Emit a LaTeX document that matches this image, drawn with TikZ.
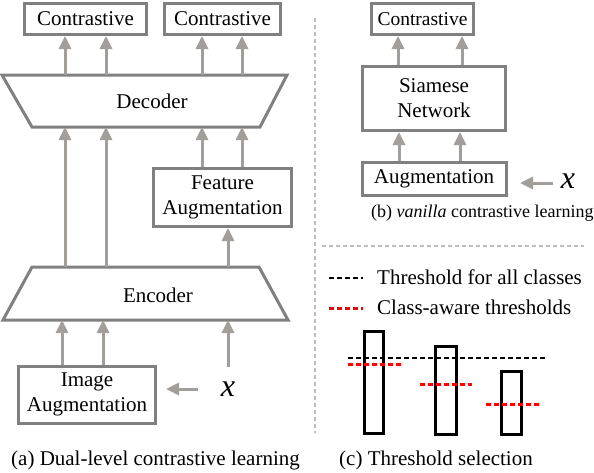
\documentclass[tikz,border=0pt]{standalone}
\usepackage{fontspec}
\setmainfont{Liberation Serif}
\usetikzlibrary{arrows.meta}
\definecolor{boxgray}{HTML}{808080}
\definecolor{arrgray}{HTML}{A29E9A}
\definecolor{sepgray}{HTML}{BDBDBD}
\tikzset{
  box/.style={draw=boxgray, line width=3pt, fill=white, align=center, inner sep=0pt, font=\fontsize{21}{25}\selectfont},
  trap/.style={draw=boxgray, line width=3pt, fill=white, line join=miter},
  arr/.style={draw=arrgray, line width=3pt, -{Triangle[width=12pt,length=13pt]}},
  lbl/.style={font=\fontsize{21}{25}\selectfont, inner sep=0pt},
  xlbl/.style={font=\fontsize{32}{32}\selectfont\itshape, inner sep=0pt},
  sep/.style={draw=sepgray, line width=2.5pt, dash pattern=on 4pt off 3pt},
  bar/.style={draw=black, line width=3pt, inner sep=0pt},
  thrblack/.style={draw=black, line width=2.3pt, dash pattern=on 5pt off 3pt},
  thrred/.style={draw=red, line width=3pt, dash pattern=on 5pt off 3pt},
}
\begin{document}
\begin{tikzpicture}[x=1pt,y=-1pt]
\useasboundingbox[fill=white] (0,0) rectangle (594,472);

% ---------- (a) ----------
\node[box, minimum width=122pt, minimum height=31pt] (c1) at (85.5,19) {Contrastive};
\node[box, minimum width=116pt, minimum height=31pt] (c2) at (222.5,19) {Contrastive};

\draw[trap] (2,75) -- (287,75) -- (260,127) -- (32,127) -- cycle;
\node[lbl] (dec) at (152,101) {Decoder};
\coordinate (dectop) at (0,75);
\coordinate (decbot) at (0,127);

\node[box, minimum width=138pt, minimum height=58pt] (fa) at (222.5,197.5) {Feature\\Augmentation};

\draw[trap] (32,267) -- (259,267) -- (288,320) -- (3,320) -- cycle;
\node[lbl] (enc) at (158,295) {Encoder};
\coordinate (enctop) at (0,267);
\coordinate (encbot) at (0,320);

\node[box, minimum width=137pt, minimum height=57pt] (ia) at (87,394.5) {Image\\Augmentation};
\node[xlbl] (xa) at (228,389) {x};
\coordinate (xaup) at (228,367);
\coordinate (xaleft) at (198,389);
\coordinate (iatip) at (166,389);

% arrows decoder -> contrastive
\draw[arr] (dectop -| 65,0) -- (c1.south -| 65,0);
\draw[arr] (dectop -| 106,0) -- (c1.south -| 106,0);
\draw[arr] (dectop -| 202,0) -- (c2.south -| 202,0);
\draw[arr] (dectop -| 242,0) -- (c2.south -| 242,0);
% encoder -> decoder
\draw[arr] (enctop -| 65,0) -- (decbot -| 65,0);
\draw[arr] (enctop -| 106,0) -- (decbot -| 106,0);
% feature aug -> decoder
\draw[arr] (fa.north -| 202,0) -- (decbot -| 202,0);
\draw[arr] (fa.north -| 242,0) -- (decbot -| 242,0);
% encoder -> feature aug
\draw[arr] (enctop -| 228,0) -- (fa.south -| 228,0);
% image aug -> encoder
\draw[arr] (ia.north -| 62,0) -- (encbot -| 62,0);
\draw[arr] (ia.north -| 103,0) -- (encbot -| 103,0);
% x -> encoder
\draw[arr] (xaup) -- (encbot -| 228,0);
% x -> image aug
\draw[arr] (xaleft) -- (iatip);

\node[lbl, anchor=west] (capa) at (11,460) {(a) Dual-level contrastive learning};

% ---------- separators ----------
\coordinate (vs1) at (315,18);
\coordinate (vs2) at (315,433);
\draw[sep] (vs1) -- (vs2);
\coordinate (hs1) at (322,246);
\coordinate (hs2) at (584,246);
\draw[sep] (hs1) -- (hs2);

% ---------- (b) ----------
\node[box, minimum width=102pt, minimum height=31pt, font=\fontsize{19.5}{22}\selectfont] (cb) at (422.5,19) {Contrastive};
\node[box, minimum width=143pt, minimum height=64pt] (sn) at (434,98.5) {Siamese\\Network};
\node[box, minimum width=144pt, minimum height=33pt] (au) at (434,179) {Augmentation};
\node[xlbl] (xb) at (568,181) {x};
\coordinate (xbleft) at (553,183);
\coordinate (autip) at (520,183);

\draw[arr] (sn.north -| 398,0) -- (cb.south -| 398,0);
\draw[arr] (sn.north -| 462,0) -- (cb.south -| 462,0);
\draw[arr] (au.north -| 399,0) -- (sn.south -| 399,0);
\draw[arr] (au.north -| 460,0) -- (sn.south -| 460,0);
\draw[arr] (xbleft) -- (autip);

\node[lbl, anchor=west, font=\fontsize{18}{20}\selectfont] (capb) at (371,213) {(b) \textit{vanilla} contrastive learning};

% ---------- (c) ----------
\coordinate (lb1) at (329,278); \coordinate (lb2) at (363,278);
\draw[thrblack] (lb1) -- (lb2);
\node[lbl, anchor=west] (tb) at (377,277) {Threshold for all classes};
\coordinate (lr1) at (329,308); \coordinate (lr2) at (363,308);
\draw[thrred] (lr1) -- (lr2);
\node[lbl, anchor=west] (tr) at (377,307) {Class-aware thresholds};

\node[bar, minimum width=19pt, minimum height=102pt] (b1) at (373.5,382.5) {};
\node[bar, minimum width=21pt, minimum height=88pt] (b2) at (445.5,390) {};
\node[bar, minimum width=20pt, minimum height=63pt] (b3) at (511,402.5) {};

\coordinate (gb1) at (348,358); \coordinate (gb2) at (546,358);
\draw[thrblack] (gb1) -- (gb2);
\coordinate (r11) at (348,364); \coordinate (r12) at (401,364);
\draw[thrred] (r11) -- (r12);
\coordinate (r21) at (420,384); \coordinate (r22) at (472,384);
\draw[thrred] (r21) -- (r22);
\coordinate (r31) at (486,404); \coordinate (r32) at (539,404);
\draw[thrred] (r31) -- (r32);

\node[lbl, anchor=west] (capc) at (339,460) {(c) Threshold selection};
\end{tikzpicture}
\end{document}
